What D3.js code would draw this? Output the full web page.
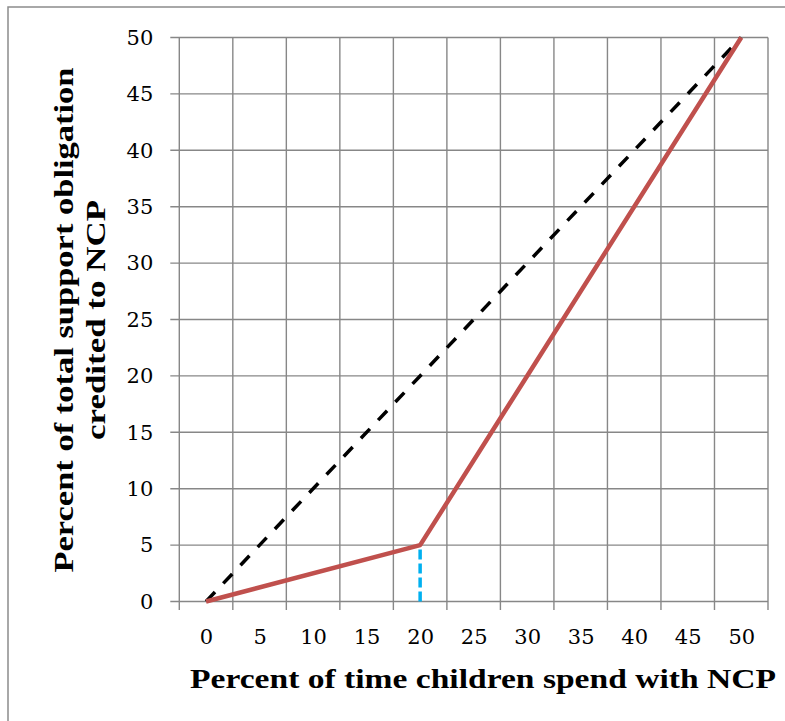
<!DOCTYPE html>
<html>
<head>
<meta charset="utf-8">
<script src="https://cdn.jsdelivr.net/npm/d3@7"></script>
<style>
  body { margin: 0; background: #fff; }
  svg { display: block; }
  text { font-family: "Liberation Serif", serif; fill: #000; }
  .tick text { font-family: "DejaVu Serif", serif; font-size: 21px; }
</style>
</head>
<body>
<div id="chart"></div>
<script>
'use strict'

// Data.
const xTicks = [0, 5, 10, 15, 20, 25, 30, 35, 40, 45, 50];
const yTicks = [0, 5, 10, 15, 20, 25, 30, 35, 40, 45, 50];
const creditLine = [ {x: 0, y: 0}, {x: 20, y: 5}, {x: 50, y: 50} ];
const equalLine = [ {x: 0, y: 0}, {x: 50, y: 50} ];
const thresholdLine = [ {x: 20, y: 0}, {x: 20, y: 5} ];
const xTitle = 'Percent of time children spend with NCP';
const yTitle = ['Percent of total support obligation', 'credited to NCP'];

const width = 785, height = 721;
const plot = {left: 179.3, right: 768, top: 37.5, bottom: 601.5};

const svg = d3.select('#chart')
  .append('svg')
    .attr('width', width)
    .attr('height', height);

// Outer frame (right / bottom edges fall outside the picture).
svg.append('rect')
  .attr('x', 8).attr('y', 7)
  .attr('width', 820).attr('height', 760)
  .attr('fill', 'none')
  .attr('stroke', '#8c8c8c')
  .attr('stroke-width', 1.5);

// Scales: category-style x axis, labels sit between grid lines.
const x = d3.scaleLinear()
  .domain([-2.5, 52.5])
  .range([plot.left, plot.right]);

const y = d3.scaleLinear()
  .domain([0, 50])
  .range([plot.bottom, plot.top]);

const gridX = d3.range(-2.5, 53, 5);
const gridColor = '#878787';

// Grid.
svg.append('g')
  .selectAll('line')
  .data(yTicks)
  .join('line')
    .attr('x1', plot.left - 9).attr('x2', plot.right)
    .attr('y1', d => y(d)).attr('y2', d => y(d))
    .attr('stroke', gridColor).attr('stroke-width', 1.4);

svg.append('g')
  .selectAll('line')
  .data(gridX)
  .join('line')
    .attr('x1', d => x(d)).attr('x2', d => x(d))
    .attr('y1', plot.top).attr('y2', plot.bottom + 8.5)
    .attr('stroke', gridColor).attr('stroke-width', 1.4);

// Axes labels.
svg.append('g')
  .attr('transform', `translate(${plot.left - 26}, 0)`)
  .call(d3.axisLeft(y).tickValues(yTicks).tickSize(0).tickPadding(0))
  .call(g => g.select('.domain').remove());

svg.append('g')
  .attr('transform', `translate(0, ${plot.bottom + 28})`)
  .call(d3.axisBottom(x).tickValues(xTicks).tickSize(0).tickPadding(0))
  .call(g => g.select('.domain').remove());

// Lines.
const line = d3.line().x(d => x(d.x)).y(d => y(d.y));

svg.append('path')
  .datum(equalLine)
  .attr('d', line)
  .attr('fill', 'none')
  .attr('stroke', '#000')
  .attr('stroke-width', 3.5)
  .attr('stroke-dasharray', '13,12');

svg.append('path')
  .datum(thresholdLine)
  .attr('d', line)
  .attr('fill', 'none')
  .attr('stroke', '#00b0f0')
  .attr('stroke-width', 3.5)
  .attr('stroke-dasharray', '10,4');

svg.append('path')
  .datum(creditLine)
  .attr('d', line)
  .attr('fill', 'none')
  .attr('stroke', '#c0504d')
  .attr('stroke-width', 4.5)
  .attr('stroke-linejoin', 'round');

// Titles.
svg.append('text')
  .attr('x', 483).attr('y', 688)
  .attr('text-anchor', 'middle')
  .style('font-size', '28px')
  .style('font-weight', 'bold')
  .attr('textLength', 586)
  .attr('lengthAdjust', 'spacingAndGlyphs')
  .text(xTitle);

const yt = svg.append('text')
  .attr('transform', 'translate(0, 320) rotate(-90)')
  .attr('text-anchor', 'middle')
  .style('font-size', '27px')
  .style('font-weight', 'bold');

yt.append('tspan')
  .attr('x', 0).attr('y', 73)
  .attr('textLength', 505)
  .attr('lengthAdjust', 'spacingAndGlyphs')
  .text(yTitle[0]);

yt.append('tspan')
  .attr('x', 0).attr('y', 105)
  .attr('textLength', 240)
  .attr('lengthAdjust', 'spacingAndGlyphs')
  .text(yTitle[1]);
</script>
</body>
</html>
